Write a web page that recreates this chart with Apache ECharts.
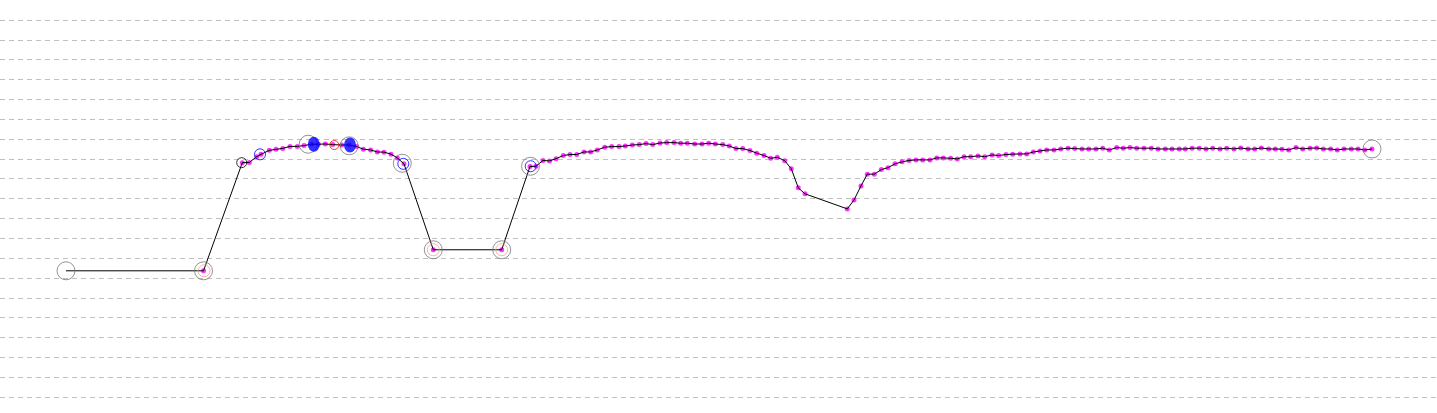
<!DOCTYPE html>
<html>
<head>
<meta charset="utf-8">
<script src="https://cdn.jsdelivr.net/npm/echarts@6/dist/echarts.min.js"></script>
<style>
html,body{margin:0;padding:0;background:#fff;}
#chart{width:1437px;height:413px;}
</style>
</head>
<body>
<div id="chart"></div>
<script>
// Track positions (x units, y units); one gridline = 1 y unit
const trackX = [
  6.60, 20.35, 24.23, 24.93, 25.67, 26.10, 26.93, 27.60, 28.27, 29.00,
  29.73, 30.40, 31.17, 31.83, 32.53, 33.27, 34.17, 34.93, 35.67, 36.33,
  37.07, 37.73, 38.40, 39.10, 39.73, 40.40, 43.33, 50.17, 53.00, 53.60,
  54.30, 54.95, 55.60, 56.33, 57.00, 57.67, 58.40, 59.07, 59.73, 60.47,
  61.17, 61.90, 62.53, 63.23, 63.93, 64.60, 65.27, 66.00, 66.67, 67.40,
  68.07, 68.73, 69.47, 70.20, 70.87, 71.53, 72.27, 72.93, 73.60, 74.27,
  75.00, 75.67, 76.40, 77.07, 77.73, 78.47, 79.13, 79.83, 80.50, 84.73,
  85.40, 86.10, 86.73, 87.43, 88.13, 88.80, 89.50, 90.20, 90.90, 91.60,
  92.27, 93.00, 93.67, 94.33, 95.07, 95.73, 96.40, 97.07, 97.80, 98.47,
  99.20, 99.87, 100.60, 101.27, 102.00, 102.67, 103.33, 104.00, 104.67, 105.40,
  106.07, 106.80, 107.47, 108.20, 108.87, 109.60, 110.27, 110.93, 111.67, 112.33,
  113.00, 113.67, 114.40, 115.13, 115.80, 116.53, 117.20, 117.93, 118.53, 119.20,
  119.93, 120.60, 121.27, 122.00, 122.67, 123.40, 124.07, 124.80, 125.47, 126.13,
  126.87, 127.53, 128.20, 128.87, 129.60, 130.27, 131.00, 131.67, 132.33, 133.07,
  133.73, 134.40, 135.13, 135.80, 136.47, 137.20
];
const trackY = [
  6.36, 6.36, 11.81, 11.82, 12.11, 12.23, 12.43, 12.48, 12.53, 12.63,
  12.63, 12.67, 12.74, 12.74, 12.75, 12.72, 12.70, 12.70, 12.62, 12.49,
  12.45, 12.35, 12.34, 12.24, 12.05, 11.75, 7.42, 7.42, 11.62, 11.63,
  11.92, 11.90, 12.01, 12.17, 12.22, 12.22, 12.35, 12.35, 12.45, 12.59,
  12.62, 12.62, 12.65, 12.70, 12.72, 12.77, 12.72, 12.80, 12.82, 12.82,
  12.79, 12.79, 12.75, 12.75, 12.79, 12.75, 12.72, 12.65, 12.52, 12.52,
  12.42, 12.29, 12.17, 12.03, 12.08, 11.91, 11.50, 10.54, 10.24, 9.48,
  9.93, 10.64, 11.23, 11.23, 11.46, 11.56, 11.75, 11.85, 11.92, 11.95,
  11.95, 11.95, 12.05, 12.05, 12.03, 12.00, 12.11, 12.11, 12.15, 12.11,
  12.20, 12.17, 12.22, 12.24, 12.25, 12.25, 12.35, 12.40, 12.45, 12.45,
  12.50, 12.54, 12.52, 12.50, 12.50, 12.50, 12.54, 12.45, 12.57, 12.54,
  12.57, 12.54, 12.54, 12.54, 12.50, 12.50, 12.50, 12.50, 12.50, 12.54,
  12.54, 12.50, 12.54, 12.50, 12.54, 12.50, 12.55, 12.50, 12.50, 12.55,
  12.50, 12.50, 12.49, 12.45, 12.57, 12.50, 12.54, 12.55, 12.50, 12.50,
  12.45, 12.50, 12.50, 12.50, 12.45, 12.50
];
// Marker groups
const grayRingX = [6.60, 20.35, 30.82, 34.92, 40.23, 43.33, 50.17, 53.05, 137.20];
const grayRingY = [6.36, 6.36, 12.74, 12.66, 11.78, 7.42, 7.42, 11.63, 12.50];
const pinkRingX = [20.40, 43.33, 50.17];
const pinkRingY = [6.36, 7.42, 7.42];
const blueRingX = [26.00, 40.33, 53.07];
const blueRingY = [12.23, 11.75, 11.63];
const blackRingX = [24.17];
const blackRingY = [11.81];
const redRingX = [33.43];
const redRingY = [12.70];
const blueFillX = [31.38, 35.00];
const blueFillY = [12.74, 12.70];

const zip = (xs, ys) => xs.map((x, i) => [x, ys[i]]);
const track = zip(trackX, trackY);
const dots = track.slice(1);

function ring(name, data, color, size, z) {
  return {
    name, type: 'scatter', data, symbol: 'circle', symbolSize: size, z,
    silent: true,
    itemStyle: { color: 'rgba(0,0,0,0)', borderColor: color, borderWidth: 1 }
  };
}

const chart = echarts.init(document.getElementById('chart'), null, { renderer: 'canvas' });
chart.setOption({
  animation: false,
  backgroundColor: '#ffffff',
  grid: { left: 0, right: 0, top: 20, bottom: 16, containLabel: false },
  xAxis: {
    type: 'value', min: 0, max: 143.7,
    axisLine: { show: false }, axisTick: { show: false }, axisLabel: { show: false },
    splitLine: { show: false }
  },
  yAxis: {
    type: 'value', min: 0, max: 19, interval: 1,
    axisLine: { show: false }, axisTick: { show: false }, axisLabel: { show: false },
    splitLine: { show: true, lineStyle: { color: '#c0c0c0', type: [5, 4], width: 1 } }
  },
  series: [
    {
      name: 'points', type: 'scatter', data: dots, symbol: 'circle', symbolSize: 5, z: 2,
      silent: true, itemStyle: { color: '#ff00ff' }
    },
    {
      name: 'track', type: 'line', data: track, symbol: 'none', z: 3, silent: true,
      lineStyle: { color: '#000000', width: 1 }
    },
    ring('gray', zip(grayRingX, grayRingY), '#787878', 18, 4),
    ring('pink', zip(pinkRingX, pinkRingY), '#f5a0a0', 12, 4),
    ring('blue', zip(blueRingX, blueRingY), '#0000ff', 11, 4),
    ring('black', zip(blackRingX, blackRingY), '#000000', 10, 4),
    ring('red', zip(redRingX, redRingY), '#ff0000', 9, 4),
    {
      name: 'blueFill', type: 'scatter', data: zip(blueFillX, blueFillY), symbol: 'circle',
      symbolSize: [12, 15], z: 5, silent: true, itemStyle: { color: '#0000ff' }
    }
  ]
});
</script>
</body>
</html>
